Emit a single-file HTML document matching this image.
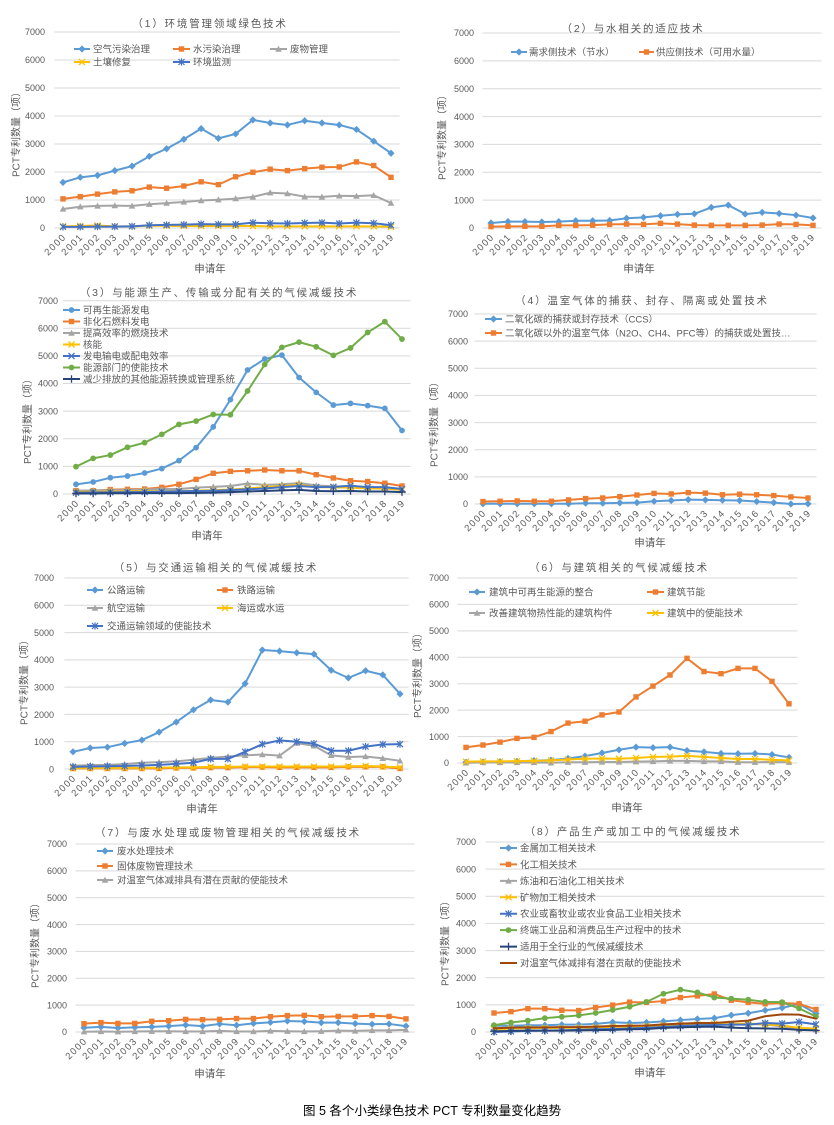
<!DOCTYPE html>
<html><head><meta charset="utf-8">
<style>
body{margin:0;background:#fff}
#root{position:relative;width:834px;height:1125px;background:#fff;overflow:hidden;font-family:"Liberation Sans","Noto Sans CJK SC",sans-serif}
svg{position:absolute;left:0;top:0}
svg text{font-family:"Liberation Sans","Noto Sans CJK SC",sans-serif;fill:#595959}
.t{font-size:10.5px;letter-spacing:1.8px;text-anchor:middle}
.ax{font-size:10px;text-anchor:middle}
.xl{font-size:10.5px;text-anchor:middle}
.lg{font-size:9.5px}
.tk{font-size:9px;text-anchor:end}
.yr{position:absolute;display:flex;height:0}
.yr i{flex:1 1 0;position:relative;height:0;font-style:normal}
.yr b{position:absolute;right:calc(50% - 2px);top:-6px;height:12px;line-height:12px;font-size:9.5px;letter-spacing:1.3px;color:#595959;font-weight:normal;white-space:nowrap;transform-origin:100% 50%;transform:rotate(-45deg)}
</style></head>
<body>
<div id="root">
<svg id="sv" width="834" height="1125" viewBox="0 0 834 1125">
<g id="plots"></g>
<!-- titles -->
<text class="t" x="210" y="27">（1）环境管理领域绿色技术</text>
<text class="t" x="633" y="32">（2）与水相关的适应技术</text>
<text class="t" x="219" y="296">（3）与能源生产、传输或分配有关的气候减缓技术</text>
<text class="t" x="642" y="304">（4）温室气体的捕获、封存、隔离或处置技术</text>
<text class="t" x="216" y="571">（5）与交通运输相关的气候减缓技术</text>
<text class="t" x="619" y="571">（6）与建筑相关的气候减缓技术</text>
<text class="t" x="228" y="836">（7）与废水处理或废物管理相关的气候减缓技术</text>
<text class="t" x="633" y="835">（8）产品生产或加工中的气候减缓技术</text>
<!-- y axis titles -->
<text class="ax" transform="translate(19.5,132) rotate(-90)">PCT专利数量（项）</text>
<text class="ax" transform="translate(445.5,135) rotate(-90)">PCT专利数量（项）</text>
<text class="ax" transform="translate(31,419) rotate(-90)">PCT专利数量（项）</text>
<text class="ax" transform="translate(437.5,422) rotate(-90)">PCT专利数量（项）</text>
<text class="ax" transform="translate(27.5,680) rotate(-90)">PCT专利数量（项）</text>
<text class="ax" transform="translate(421,673) rotate(-90)">PCT专利数量（项）</text>
<text class="ax" transform="translate(38.5,943) rotate(-90)">PCT专利数量（项）</text>
<text class="ax" transform="translate(448.5,941) rotate(-90)">PCT专利数量（项）</text>
<!-- x axis titles -->
<text class="xl" x="210" y="272">申请年</text>
<text class="xl" x="639" y="272">申请年</text>
<text class="xl" x="207" y="539">申请年</text>
<text class="xl" x="650" y="546">申请年</text>
<text class="xl" x="202" y="812">申请年</text>
<text class="xl" x="627" y="811">申请年</text>
<text class="xl" x="210" y="1077">申请年</text>
<text class="xl" x="650" y="1076">申请年</text>
<!-- y tick labels -->
<text class="tk"><tspan x="45" y="35.2">7000</tspan><tspan x="45" dy="28">6000</tspan><tspan x="45" dy="28">5000</tspan><tspan x="45" dy="28">4000</tspan><tspan x="45" dy="28">3000</tspan><tspan x="45" dy="28">2000</tspan><tspan x="45" dy="28">1000</tspan><tspan x="45" dy="28">0</tspan></text>
<text class="tk"><tspan x="474" y="36.2">7000</tspan><tspan x="474" dy="27.857">6000</tspan><tspan x="474" dy="27.857">5000</tspan><tspan x="474" dy="27.857">4000</tspan><tspan x="474" dy="27.857">3000</tspan><tspan x="474" dy="27.857">2000</tspan><tspan x="474" dy="27.857">1000</tspan><tspan x="474" dy="27.857">0</tspan></text>
<text class="tk"><tspan x="58" y="303.9">7000</tspan><tspan x="58" dy="27.61">6000</tspan><tspan x="58" dy="27.61">5000</tspan><tspan x="58" dy="27.61">4000</tspan><tspan x="58" dy="27.61">3000</tspan><tspan x="58" dy="27.61">2000</tspan><tspan x="58" dy="27.61">1000</tspan><tspan x="58" dy="27.61">0</tspan></text>
<text class="tk"><tspan x="468" y="317.2">7000</tspan><tspan x="468" dy="27.14">6000</tspan><tspan x="468" dy="27.14">5000</tspan><tspan x="468" dy="27.14">4000</tspan><tspan x="468" dy="27.14">3000</tspan><tspan x="468" dy="27.14">2000</tspan><tspan x="468" dy="27.14">1000</tspan><tspan x="468" dy="27.14">0</tspan></text>
<text class="tk"><tspan x="54" y="581.2">7000</tspan><tspan x="54" dy="27.33">6000</tspan><tspan x="54" dy="27.33">5000</tspan><tspan x="54" dy="27.33">4000</tspan><tspan x="54" dy="27.33">3000</tspan><tspan x="54" dy="27.33">2000</tspan><tspan x="54" dy="27.33">1000</tspan><tspan x="54" dy="27.33">0</tspan></text>
<text class="tk"><tspan x="449" y="581.2">7000</tspan><tspan x="449" dy="26.43">6000</tspan><tspan x="449" dy="26.43">5000</tspan><tspan x="449" dy="26.43">4000</tspan><tspan x="449" dy="26.43">3000</tspan><tspan x="449" dy="26.43">2000</tspan><tspan x="449" dy="26.43">1000</tspan><tspan x="449" dy="26.43">0</tspan></text>
<text class="tk"><tspan x="67" y="847.2">7000</tspan><tspan x="67" dy="26.86">6000</tspan><tspan x="67" dy="26.86">5000</tspan><tspan x="67" dy="26.86">4000</tspan><tspan x="67" dy="26.86">3000</tspan><tspan x="67" dy="26.86">2000</tspan><tspan x="67" dy="26.86">1000</tspan><tspan x="67" dy="26.86">0</tspan></text>
<text class="tk"><tspan x="476" y="845.2">7000</tspan><tspan x="476" dy="27.14">6000</tspan><tspan x="476" dy="27.14">5000</tspan><tspan x="476" dy="27.14">4000</tspan><tspan x="476" dy="27.14">3000</tspan><tspan x="476" dy="27.14">2000</tspan><tspan x="476" dy="27.14">1000</tspan><tspan x="476" dy="27.14">0</tspan></text>
<!-- legends -->
<text class="lg" x="93" y="52.5">空气污染治理</text>
<text class="lg" x="193" y="52.5">水污染治理</text>
<text class="lg" x="290" y="52.5">废物管理</text>
<text class="lg" x="93" y="65.5">土壤修复</text>
<text class="lg" x="193" y="65.5">环境监测</text>

<text class="lg" x="529" y="55.5">需求侧技术（节水）</text>
<text class="lg" x="656" y="55.5">供应侧技术（可用水量）</text>

<text class="lg" x="83" y="313.5">可再生能源发电</text>
<text class="lg" x="83" y="325">非化石燃料发电</text>
<text class="lg" x="83" y="336.5">提高效率的燃烧技术</text>
<text class="lg" x="83" y="348">核能</text>
<text class="lg" x="83" y="359.5">发电输电或配电效率</text>
<text class="lg" x="83" y="371">能源部门的使能技术</text>
<text class="lg" x="83" y="382.5">减少排放的其他能源转换或管理系统</text>

<text class="lg" x="505" y="322.5">二氧化碳的捕获或封存技术（CCS）</text>
<text class="lg" x="505" y="336.5">二氧化碳以外的温室气体（N2O、CH4、PFC等）的捕获或处置技…</text>

<text class="lg" x="107" y="593.5">公路运输</text>
<text class="lg" x="237" y="593.5">铁路运输</text>
<text class="lg" x="107" y="611.5">航空运输</text>
<text class="lg" x="237" y="611.5">海运或水运</text>
<text class="lg" x="107" y="629.5">交通运输领域的使能技术</text>

<text class="lg" x="489" y="595.5">建筑中可再生能源的整合</text>
<text class="lg" x="667" y="595.5">建筑节能</text>
<text class="lg" x="489" y="616.5">改善建筑物热性能的建筑构件</text>
<text class="lg" x="667" y="616.5">建筑中的使能技术</text>

<text class="lg" x="117" y="854.5">废水处理技术</text>
<text class="lg" x="117" y="869.5">固体废物管理技术</text>
<text class="lg" x="117" y="883.5">对温室气体减排具有潜在贡献的使能技术</text>

<text class="lg" x="520" y="851.5">金属加工相关技术</text>
<text class="lg" x="520" y="867.9">化工相关技术</text>
<text class="lg" x="520" y="884.4">炼油和石油化工相关技术</text>
<text class="lg" x="520" y="900.8">矿物加工相关技术</text>
<text class="lg" x="520" y="917.2">农业或畜牧业或农业食品工业相关技术</text>
<text class="lg" x="520" y="933.6">终端工业品和消费品生产过程中的技术</text>
<text class="lg" x="520" y="950.1">适用于全行业的气候减缓技术</text>
<text class="lg" x="520" y="966.5">对温室气体减排有潜在贡献的使能技术</text>

<text x="303" y="1115" style="font-size:12.5px;fill:#000">图 5 各个小类绿色技术 PCT 专利数量变化趋势</text>
</svg>

<div class="yr" style="left:54.4px;top:236px;width:345.3px"><i><b>2000</b></i><i><b>2001</b></i><i><b>2002</b></i><i><b>2003</b></i><i><b>2004</b></i><i><b>2005</b></i><i><b>2006</b></i><i><b>2007</b></i><i><b>2008</b></i><i><b>2009</b></i><i><b>2010</b></i><i><b>2011</b></i><i><b>2012</b></i><i><b>2013</b></i><i><b>2014</b></i><i><b>2015</b></i><i><b>2016</b></i><i><b>2017</b></i><i><b>2018</b></i><i><b>2019</b></i></div>
<div class="yr" style="left:482.5px;top:236px;width:338.9px"><i><b>2000</b></i><i><b>2001</b></i><i><b>2002</b></i><i><b>2003</b></i><i><b>2004</b></i><i><b>2005</b></i><i><b>2006</b></i><i><b>2007</b></i><i><b>2008</b></i><i><b>2009</b></i><i><b>2010</b></i><i><b>2011</b></i><i><b>2012</b></i><i><b>2013</b></i><i><b>2014</b></i><i><b>2015</b></i><i><b>2016</b></i><i><b>2017</b></i><i><b>2018</b></i><i><b>2019</b></i></div>
<div class="yr" style="left:67.4px;top:502px;width:343.2px"><i><b>2000</b></i><i><b>2001</b></i><i><b>2002</b></i><i><b>2003</b></i><i><b>2004</b></i><i><b>2005</b></i><i><b>2006</b></i><i><b>2007</b></i><i><b>2008</b></i><i><b>2009</b></i><i><b>2010</b></i><i><b>2011</b></i><i><b>2012</b></i><i><b>2013</b></i><i><b>2014</b></i><i><b>2015</b></i><i><b>2016</b></i><i><b>2017</b></i><i><b>2018</b></i><i><b>2019</b></i></div>
<div class="yr" style="left:474.4px;top:512px;width:342.1px"><i><b>2000</b></i><i><b>2001</b></i><i><b>2002</b></i><i><b>2003</b></i><i><b>2004</b></i><i><b>2005</b></i><i><b>2006</b></i><i><b>2007</b></i><i><b>2008</b></i><i><b>2009</b></i><i><b>2010</b></i><i><b>2011</b></i><i><b>2012</b></i><i><b>2013</b></i><i><b>2014</b></i><i><b>2015</b></i><i><b>2016</b></i><i><b>2017</b></i><i><b>2018</b></i><i><b>2019</b></i></div>
<div class="yr" style="left:64.4px;top:777px;width:344.2px"><i><b>2000</b></i><i><b>2001</b></i><i><b>2002</b></i><i><b>2003</b></i><i><b>2004</b></i><i><b>2005</b></i><i><b>2006</b></i><i><b>2007</b></i><i><b>2008</b></i><i><b>2009</b></i><i><b>2010</b></i><i><b>2011</b></i><i><b>2012</b></i><i><b>2013</b></i><i><b>2014</b></i><i><b>2015</b></i><i><b>2016</b></i><i><b>2017</b></i><i><b>2018</b></i><i><b>2019</b></i></div>
<div class="yr" style="left:457.5px;top:771px;width:340px"><i><b>2000</b></i><i><b>2001</b></i><i><b>2002</b></i><i><b>2003</b></i><i><b>2004</b></i><i><b>2005</b></i><i><b>2006</b></i><i><b>2007</b></i><i><b>2008</b></i><i><b>2009</b></i><i><b>2010</b></i><i><b>2011</b></i><i><b>2012</b></i><i><b>2013</b></i><i><b>2014</b></i><i><b>2015</b></i><i><b>2016</b></i><i><b>2017</b></i><i><b>2018</b></i><i><b>2019</b></i></div>
<div class="yr" style="left:75.5px;top:1040px;width:338.9px"><i><b>2000</b></i><i><b>2001</b></i><i><b>2002</b></i><i><b>2003</b></i><i><b>2004</b></i><i><b>2005</b></i><i><b>2006</b></i><i><b>2007</b></i><i><b>2008</b></i><i><b>2009</b></i><i><b>2010</b></i><i><b>2011</b></i><i><b>2012</b></i><i><b>2013</b></i><i><b>2014</b></i><i><b>2015</b></i><i><b>2016</b></i><i><b>2017</b></i><i><b>2018</b></i><i><b>2019</b></i></div>
<div class="yr" style="left:485.5px;top:1040px;width:338.9px"><i><b>2000</b></i><i><b>2001</b></i><i><b>2002</b></i><i><b>2003</b></i><i><b>2004</b></i><i><b>2005</b></i><i><b>2006</b></i><i><b>2007</b></i><i><b>2008</b></i><i><b>2009</b></i><i><b>2010</b></i><i><b>2011</b></i><i><b>2012</b></i><i><b>2013</b></i><i><b>2014</b></i><i><b>2015</b></i><i><b>2016</b></i><i><b>2017</b></i><i><b>2018</b></i><i><b>2019</b></i></div>
</div>

<script>
(function(){
var B='#5B9BD5',O='#ED7D31',G='#A5A5A5',Y='#FFC000',DB='#4472C4',GR='#70AD47',NV='#264478',BR='#9E480E';
var P=[
{x0:63,x1:391,y0:228,y7:32,L:54.4,R:399.6,s:[
 [B,'d',[1630,1810,1880,2050,2210,2560,2830,3170,3550,3200,3360,3860,3750,3680,3830,3750,3680,3520,3100,2670]],
 [O,'s',[1040,1120,1210,1290,1330,1460,1420,1500,1650,1550,1830,1990,2100,2050,2120,2170,2180,2360,2230,1810]],
 [G,'t',[680,760,790,800,790,850,890,930,980,1010,1050,1110,1260,1230,1120,1110,1150,1140,1170,890]],
 [Y,'x',[60,70,90,60,60,80,80,70,70,70,70,70,60,60,60,60,60,60,60,40]],
 [DB,'a',[40,40,50,50,60,100,110,120,140,130,130,190,170,160,180,190,160,190,170,100]]
],lg:[[74,90,49,0],[173,190,49,1],[270,287,49,2],[74,90,62,3],[173,190,62,4]]},
{x0:491,x1:813,y0:228,y7:33,L:482.5,R:821.5,s:[
 [B,'d',[180,230,230,215,230,260,260,270,350,380,440,490,510,740,820,500,560,520,460,360]],
 [O,'s',[50,60,60,60,95,95,105,130,140,130,165,140,105,95,95,95,105,140,130,95]]
],lg:[[511,527,52,0],[639,654,52,1]]},
{x0:76,x1:402,y0:494,y7:300.7,L:63,R:410.6,s:[
 [B,'c',[350,435,590,650,760,920,1210,1680,2430,3420,4490,4890,5030,4220,3680,3220,3280,3200,3100,2300]],
 [O,'s',[120,120,160,170,180,240,350,530,750,820,840,870,840,840,700,580,480,450,390,290]],
 [G,'t',[120,130,140,140,160,180,180,230,260,290,380,330,350,400,310,280,260,230,240,180]],
 [Y,'x',[80,80,90,90,100,100,110,120,140,160,200,250,280,330,250,240,230,200,200,150]],
 [DB,'x',[50,60,60,70,70,90,100,110,120,140,170,200,250,290,250,260,300,250,250,180]],
 [GR,'c',[990,1290,1410,1690,1860,2160,2520,2640,2880,2870,3730,4690,5310,5500,5330,5020,5290,5850,6240,5610]],
 [NV,'p',[20,20,25,25,30,30,30,40,50,70,90,110,130,150,110,100,110,90,90,70]]
],lg:[[63,80,310,0],[63,80,321.5,1],[63,80,333,2],[63,80,344.5,3],[63,80,356,4],[63,80,367.5,5],[63,80,379,6]]},
{x0:483,x1:808,y0:504,y7:314,L:474.4,R:816.6,s:[
 [B,'d',[10,10,10,10,10,10,30,30,40,50,100,130,160,150,140,130,90,50,0,10]],
 [O,'s',[90,100,110,100,100,150,200,220,270,330,390,370,420,400,340,360,340,310,260,220]]
],lg:[[485,502,319,0],[485,502,333,1]]},
{x0:73,x1:400,y0:769,y7:578,L:64.4,R:408.6,s:[
 [B,'d',[630,770,800,940,1060,1350,1720,2170,2530,2450,3130,4360,4320,4260,4210,3620,3340,3600,3450,2750]],
 [O,'s',[20,20,20,20,20,20,40,40,50,50,70,70,60,60,60,60,80,80,80,20]],
 [G,'t',[120,140,150,180,230,250,280,340,410,460,500,530,490,950,850,500,440,460,390,300]],
 [Y,'x',[30,30,30,40,40,50,60,60,80,80,90,90,90,90,90,90,100,110,90,60]],
 [DB,'a',[80,90,100,110,130,150,190,230,370,370,630,910,1050,1000,930,670,670,820,900,910]]
],lg:[[87,103,590,0],[217,233,590,1],[87,103,608,2],[217,233,608,3],[87,103,626,4]]},
{x0:466,x1:789,y0:763,y7:578,L:457.5,R:797.5,s:[
 [B,'d',[30,40,50,60,90,110,170,260,380,500,600,580,600,470,420,360,350,360,320,210]],
 [O,'s',[590,680,790,930,970,1190,1510,1580,1820,1930,2500,2910,3330,3960,3460,3380,3580,3580,3090,2240]],
 [G,'t',[10,20,20,20,20,10,30,30,40,40,50,60,80,80,60,60,30,30,40,30]],
 [Y,'x',[50,60,60,70,80,100,130,160,170,160,190,230,240,270,230,190,150,150,120,100]]
],lg:[[469,485,592,0],[647,664,592,1],[469,485,613,2],[647,664,613,3]]},
{x0:84,x1:406,y0:1032,y7:844,L:75.5,R:414.5,s:[
 [B,'d',[160,190,150,170,190,220,260,220,300,250,320,360,410,390,350,350,310,290,300,220]],
 [O,'s',[310,350,320,320,400,420,470,460,470,500,500,570,610,620,570,580,580,610,580,490]],
 [G,'t',[10,20,10,20,30,30,20,20,40,20,20,40,30,20,30,50,40,60,60,80]]
],lg:[[97,113,851,0],[97,113,866,1],[97,113,880,2]]},
{x0:494,x1:816,y0:1032,y7:842,L:485.5,R:824.5,s:[
 [B,'d',[230,230,250,250,270,270,300,360,330,350,390,440,480,510,620,690,800,890,1030,680]],
 [O,'s',[700,750,860,860,800,790,900,990,1100,1090,1140,1270,1330,1400,1170,1090,1040,1070,1040,830]],
 [G,'t',[120,140,150,160,160,170,180,200,210,220,260,280,300,300,290,290,280,200,100,80]],
 [Y,'x',[100,130,140,150,150,160,170,190,200,220,250,260,280,300,300,310,280,240,150,130]],
 [DB,'a',[0,20,40,50,60,80,100,110,130,150,190,220,250,260,270,270,330,310,370,280]],
 [GR,'c',[250,350,420,510,560,610,700,810,930,1110,1410,1560,1460,1270,1230,1190,1110,1100,870,570]],
 [NV,'p',[30,40,50,50,50,60,70,80,100,110,150,170,190,200,160,140,130,120,80,60]],
 [BR,'n',[140,160,170,170,180,180,200,220,230,240,280,310,330,330,380,420,580,650,640,490]]
],lg:[[500,517,848,0],[500,517,864.4,1],[500,517,880.9,2],[500,517,897.3,3],[500,517,913.7,4],[500,517,930.1,5],[500,517,946.6,6],[500,517,963,7]]}
];
function mk(t,x,y,c){
 x=+x.toFixed(2);y=+y.toFixed(2);
 switch(t){
 case 'd':return '<polygon points="'+x+','+(y-3.6)+' '+(x+3.6)+','+y+' '+x+','+(y+3.6)+' '+(x-3.6)+','+y+'" fill="'+c+'"/>';
 case 's':return '<rect x="'+(x-2.7)+'" y="'+(y-2.7)+'" width="5.4" height="5.4" fill="'+c+'"/>';
 case 't':return '<polygon points="'+x+','+(y-3.3)+' '+(x+3.3)+','+(y+2.7)+' '+(x-3.3)+','+(y+2.7)+'" fill="'+c+'"/>';
 case 'x':return '<path d="M'+(x-3)+','+(y-3)+'L'+(x+3)+','+(y+3)+'M'+(x+3)+','+(y-3)+'L'+(x-3)+','+(y+3)+'" stroke="'+c+'" stroke-width="1.3" fill="none"/>';
 case 'a':return '<path d="M'+(x-3)+','+(y-3)+'L'+(x+3)+','+(y+3)+'M'+(x+3)+','+(y-3)+'L'+(x-3)+','+(y+3)+'M'+x+','+(y-3.6)+'L'+x+','+(y+3.6)+'" stroke="'+c+'" stroke-width="1.2" fill="none"/>';
 case 'c':return '<circle cx="'+x+'" cy="'+y+'" r="2.9" fill="'+c+'"/>';
 case 'p':return '<path d="M'+(x-3.8)+','+y+'L'+(x+3.8)+','+y+'M'+x+','+(y-3.8)+'L'+x+','+(y+3.8)+'" stroke="'+c+'" stroke-width="1.3" fill="none"/>';
 }
 return '';
}
var h='';
P.forEach(function(p){
 var dy=(p.y0-p.y7)/7;
 for(var k=0;k<=7;k++){var y=p.y0-k*dy;h+='<line x1="'+p.L+'" x2="'+p.R+'" y1="'+y.toFixed(2)+'" y2="'+y.toFixed(2)+'" stroke="#D9D9D9" stroke-width="1"/>';}
 var st=(p.x1-p.x0)/19;
 p.s.forEach(function(s){
  var pts=[],m='';
  s[2].forEach(function(v,i){var x=p.x0+i*st,y=p.y0-v*(p.y0-p.y7)/7000;pts.push(x.toFixed(2)+','+y.toFixed(2));m+=mk(s[1],x,y,s[0]);});
  h+='<polyline points="'+pts.join(' ')+'" fill="none" stroke="'+s[0]+'" stroke-width="2" stroke-linejoin="round" stroke-linecap="round"/>'+m;
 });
 p.lg.forEach(function(l){
  var s=p.s[l[3]];
  h+='<line x1="'+l[0]+'" x2="'+l[1]+'" y1="'+l[2]+'" y2="'+l[2]+'" stroke="'+s[0]+'" stroke-width="2"/>'+mk(s[1],(l[0]+l[1])/2,l[2],s[0]);
 });
});
document.getElementById('plots').innerHTML=h;
})();
</script>
</body></html>
